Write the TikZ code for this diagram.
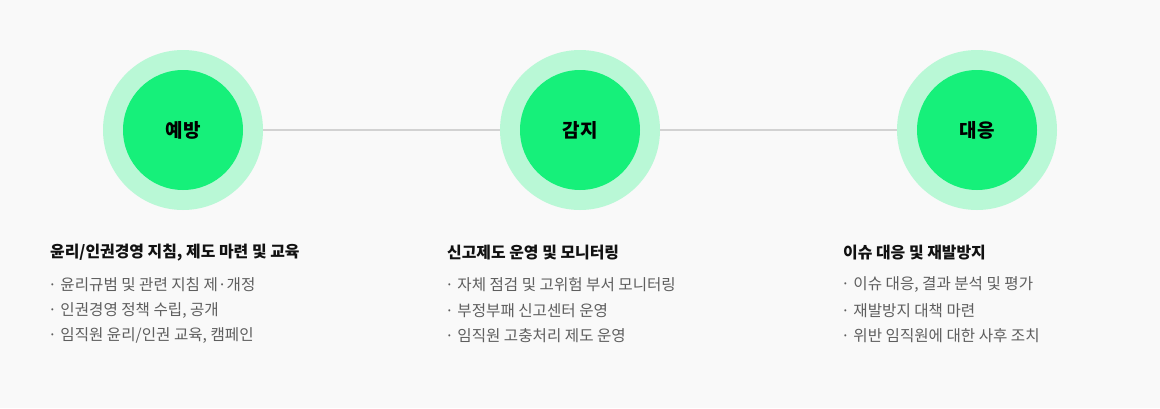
\documentclass[tikz,border=0pt]{standalone}
\usepackage{fontspec}
\setmainfont{Noto Sans CJK KR}
\definecolor{bg}{HTML}{F9F9F9}
\definecolor{outerg}{HTML}{B9F8D6}
\definecolor{innerg}{HTML}{16F07A}
\definecolor{linec}{HTML}{D2D2D2}
\definecolor{itemc}{HTML}{5E5E5E}
\definecolor{headc}{HTML}{111111}
\tikzset{
  outer/.style={circle, fill=outerg, minimum size=160pt, inner sep=0pt},
  inner/.style={circle, fill=innerg, minimum size=120pt, inner sep=0pt, font=\fontsize{19pt}{21pt}\selectfont\bfseries, text=black},
  head/.style={anchor=west, inner sep=0pt, font=\fontsize{15.9pt}{18pt}\selectfont\bfseries, text=headc},
  item/.style={anchor=west, inner sep=0pt, font=\fontsize{15.6pt}{18pt}\selectfont, text=itemc},
  conn/.style={draw=linec, line width=1.5pt}
}
\begin{document}
\begin{tikzpicture}[x=1pt,y=-1pt]
\fill[bg] (0,0) rectangle (1160,408);
\useasboundingbox (0,0) rectangle (1160,408);
\node[outer] (o1) at (183,130) {};
\node[outer] (o2) at (580,130) {};
\node[outer] (o3) at (977,130) {};
\draw[conn] (o1.east) -- (o2.west);
\draw[conn] (o2.east) -- (o3.west);
\node[inner] (c1) at (183,130) {예방};
\node[inner] (c2) at (580,130) {감지};
\node[inner] (c3) at (977,130) {대응};

\node[head] (h1) at (50,253) {윤리/인권경영 지침, 제도 마련 및 교육};
\node[item] (a1) at (48,285) {· 윤리규범 및 관련 지침 제·개정};
\node[item] (a2) at (48,310.5) {· 인권경영 정책 수립, 공개};
\node[item] (a3) at (48,336) {· 임직원 윤리/인권 교육, 캠페인};

\node[head] (h2) at (447,253) {신고제도 운영 및 모니터링};
\node[item] (b1) at (445,285) {· 자체 점검 및 고위험 부서 모니터링};
\node[item] (b2) at (445,310.5) {· 부정부패 신고센터 운영};
\node[item] (b3) at (445,336) {· 임직원 고충처리 제도 운영};

\node[head] (h3) at (843,253) {이슈 대응 및 재발방지};
\node[item] (d1) at (841,285) {· 이슈 대응, 결과 분석 및 평가};
\node[item] (d2) at (841,310.5) {· 재발방지 대책 마련};
\node[item] (d3) at (841,336) {· 위반 임직원에 대한 사후 조치};
\end{tikzpicture}
\end{document}
